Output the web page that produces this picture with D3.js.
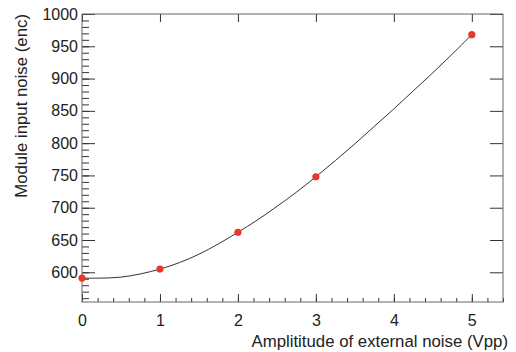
<!DOCTYPE html>
<html>
<head>
<meta charset="utf-8">
<script src="https://cdn.jsdelivr.net/npm/d3@7/dist/d3.min.js"></script>
<style>
html,body{margin:0;padding:0;background:#fff;}
svg{display:block;font-family:"Liberation Sans",Arial,Helvetica,sans-serif;}
</style>
</head>
<body>
<svg id="chart" width="516" height="352"></svg>
<script>
// Measured points
const amplitude = [0, 1, 2, 3, 5];
const noise = [591, 605, 662, 748, 968];
// Fit curve
const fitX = [0, 0.25, 0.5, 0.75, 1, 1.25, 1.5, 1.75, 2, 2.25, 2.5, 2.75, 3, 3.25, 3.5, 3.75, 4, 4.25, 4.5, 4.75, 5];
const fitY = [591, 591, 592.5, 597.5, 605, 615, 628, 644, 662, 681, 702, 724, 748, 773, 799, 826, 853, 881, 909, 938, 968];
// Axis ticks
const xTicks = [0, 1, 2, 3, 4, 5];
const yTicks = [600, 650, 700, 750, 800, 850, 900, 950, 1000];
const xTitle = "Amplititude of external noise (Vpp)";
const yTitle = "Module input noise (enc)";

const W = 516, H = 352;
const m = {l: 82, r: 13, t: 14, b: 50};
const svg = d3.select("#chart");
const x = d3.scaleLinear().domain([0, 5.4]).range([m.l, W - m.r]);
const y = d3.scaleLinear().domain([554, 1000]).range([H - m.b, m.t]);

const xMinor = d3.range(0, 5.4001, 0.2).map(v => +v.toFixed(2));
const yMinor = d3.range(560, 1000.1, 10);

const axisColor = "#333";
const fs = 16;
const tfs = 16.8;

// bottom axis
const gB = svg.append("g").attr("transform", `translate(0,${H - m.b})`);
gB.call(d3.axisBottom(x).tickValues(xMinor).tickSize(-4).tickFormat(""));
gB.call(g => g.selectAll(".domain").remove());
const gB2 = svg.append("g").attr("transform", `translate(0,${H - m.b})`);
gB2.call(d3.axisBottom(x).tickValues(xTicks).tickSize(-8).tickPadding(13).tickFormat(d3.format("d")));
gB2.call(g => g.selectAll(".domain").remove());

// top axis
const gT = svg.append("g").attr("transform", `translate(0,${m.t})`);
gT.call(d3.axisTop(x).tickValues(xMinor).tickSize(-4).tickFormat(""));
gT.call(d3.axisTop(x).tickValues(xTicks).tickSize(-8).tickFormat(""));
gT.call(g => g.selectAll(".domain").remove());

// left axis
const gL = svg.append("g").attr("transform", `translate(${m.l},0)`);
gL.call(d3.axisLeft(y).tickValues(yMinor).tickSize(-7).tickFormat(""));
gL.call(g => g.selectAll(".domain").remove());
const gL2 = svg.append("g").attr("transform", `translate(${m.l},0)`);
gL2.call(d3.axisLeft(y).tickValues(yTicks).tickSize(-13).tickFormat(d3.format("d")));
gL2.call(g => g.selectAll(".domain").remove());
gL2.selectAll("text").attr("x", -4);

// right axis
const gR = svg.append("g").attr("transform", `translate(${W - m.r},0)`);
gR.call(d3.axisRight(y).tickValues(yMinor).tickSize(-7).tickFormat(""));
gR.call(d3.axisRight(y).tickValues(yTicks).tickSize(-13).tickFormat(""));
gR.call(g => g.selectAll(".domain").remove());

svg.selectAll(".tick line").attr("stroke", axisColor).attr("stroke-width", 1);
svg.selectAll(".tick text").attr("fill", "#222").style("font-size", fs + "px");

// frame
svg.append("rect")
  .attr("x", m.l).attr("y", m.t)
  .attr("width", W - m.l - m.r).attr("height", H - m.t - m.b)
  .attr("fill", "none").attr("stroke", "#666").attr("stroke-width", 1);

// fit curve
const fitData = fitX.map((v, i) => [v, fitY[i]]);
svg.append("path")
  .datum(fitData)
  .attr("fill", "none")
  .attr("stroke", "#333")
  .attr("stroke-width", 1)
  .attr("d", d3.line().x(d => x(d[0])).y(d => y(d[1])).curve(d3.curveCatmullRom));

// points
svg.append("g").selectAll("circle")
  .data(amplitude.map((v, i) => [v, noise[i]]))
  .join("circle")
  .attr("cx", d => x(d[0])).attr("cy", d => y(d[1]))
  .attr("r", 3.6).attr("fill", "#e8382c");

// titles
svg.append("text")
  .attr("x", W - 8).attr("y", 347)
  .attr("text-anchor", "end")
  .attr("fill", "#222")
  .style("font-size", tfs + "px")
  .text(xTitle);
svg.append("text")
  .attr("transform", `translate(27,${m.t}) rotate(-90)`)
  .attr("text-anchor", "end")
  .attr("fill", "#222")
  .style("font-size", tfs + "px")
  .text(yTitle);
</script>
</body>
</html>
